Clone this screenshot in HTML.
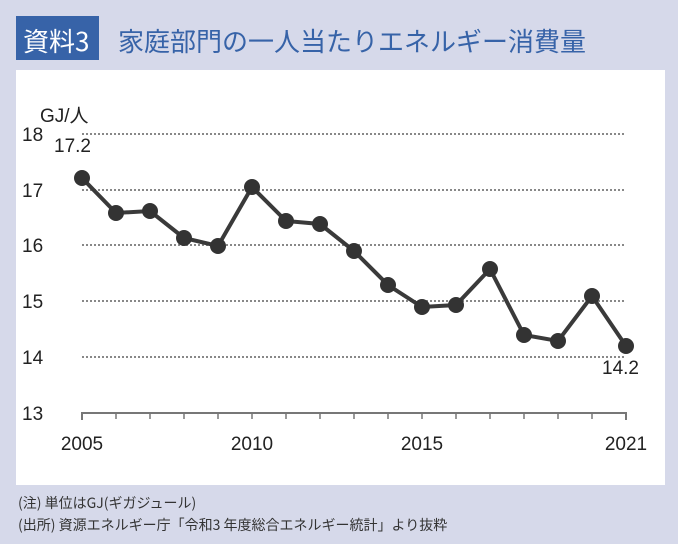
<!DOCTYPE html>
<html><head><meta charset="utf-8"><style>
body{margin:0;width:678px;height:544px;background:#d6d9ea;overflow:hidden;font-family:"Liberation Sans","Noto Sans CJK JP",sans-serif}
</style></head><body>
<svg width="678" height="544" xmlns="http://www.w3.org/2000/svg" style="position:absolute;left:0;top:0">
<rect x="16" y="16" width="83" height="44" fill="#3763a8"/>
<text x="23" y="51" font-size="26" fill="#fff" font-family="Noto Sans CJK JP,sans-serif">資料3</text>
<text x="118" y="51" font-size="26" fill="#3763a8" font-family="Noto Sans CJK JP,sans-serif">家庭部門の一人当たりエネルギー消費量</text>
<rect x="16" y="70" width="649" height="415" fill="#fff"/>
<g stroke="#888" stroke-width="2" stroke-dasharray="2,2">
<line x1="82" x2="626" y1="134" y2="134"/><line x1="82" x2="626" y1="190" y2="190"/><line x1="82" x2="626" y1="245" y2="245"/><line x1="82" x2="626" y1="301" y2="301"/><line x1="82" x2="626" y1="357" y2="357"/>
</g>
<path d="M82,420V413H626V420" fill="none" stroke="#777" stroke-width="2"/>
<g stroke="#777" stroke-width="1.5">
<line x1="116" x2="116" y1="413" y2="419"/><line x1="150" x2="150" y1="413" y2="419"/><line x1="184" x2="184" y1="413" y2="419"/><line x1="218" x2="218" y1="413" y2="419"/><line x1="252" x2="252" y1="413" y2="419"/><line x1="286" x2="286" y1="413" y2="419"/><line x1="320" x2="320" y1="413" y2="419"/><line x1="354" x2="354" y1="413" y2="419"/><line x1="388" x2="388" y1="413" y2="419"/><line x1="422" x2="422" y1="413" y2="419"/><line x1="456" x2="456" y1="413" y2="419"/><line x1="490" x2="490" y1="413" y2="419"/><line x1="524" x2="524" y1="413" y2="419"/><line x1="558" x2="558" y1="413" y2="419"/><line x1="592" x2="592" y1="413" y2="419"/>
</g>
<g font-size="19" fill="#222">
<text x="40" y="122">GJ/人</text>
<text x="22" y="141">18</text><text x="54" y="152">17.2</text>
<text x="22" y="197">17</text><text x="22" y="252">16</text><text x="22" y="308">15</text><text x="22" y="364">14</text><text x="22" y="420">13</text>
<text x="82" y="450" text-anchor="middle">2005</text><text x="252" y="450" text-anchor="middle">2010</text><text x="422" y="450" text-anchor="middle">2015</text><text x="626" y="450" text-anchor="middle">2021</text>
<text x="602" y="374">14.2</text>
</g>
<polyline fill="none" stroke="#3a3a3a" stroke-width="4" points="82,178 116,213 150,211 184,238 218,246 252,187 286,221 320,224 354,251 388,285 422,307 456,305 490,269 524,335 558,341 592,296 626,346"/>
<g fill="#333">
<circle cx="82" cy="178" r="8"/><circle cx="116" cy="213" r="8"/><circle cx="150" cy="211" r="8"/><circle cx="184" cy="238" r="8"/><circle cx="218" cy="246" r="8"/><circle cx="252" cy="187" r="8"/><circle cx="286" cy="221" r="8"/><circle cx="320" cy="224" r="8"/><circle cx="354" cy="251" r="8"/><circle cx="388" cy="285" r="8"/><circle cx="422" cy="307" r="8"/><circle cx="456" cy="305" r="8"/><circle cx="490" cy="269" r="8"/><circle cx="524" cy="335" r="8"/><circle cx="558" cy="341" r="8"/><circle cx="592" cy="296" r="8"/><circle cx="626" cy="346" r="8"/>
</g>
<g font-size="14" fill="#333" font-family="Noto Sans CJK JP,sans-serif">
<text x="18" y="508">(注) 単位はGJ(ギガジュール)</text>
<text x="18" y="530">(出所) 資源エネルギー庁「令和3 年度総合エネルギー統計」より抜粋</text>
</g>
</svg>
</body></html>
